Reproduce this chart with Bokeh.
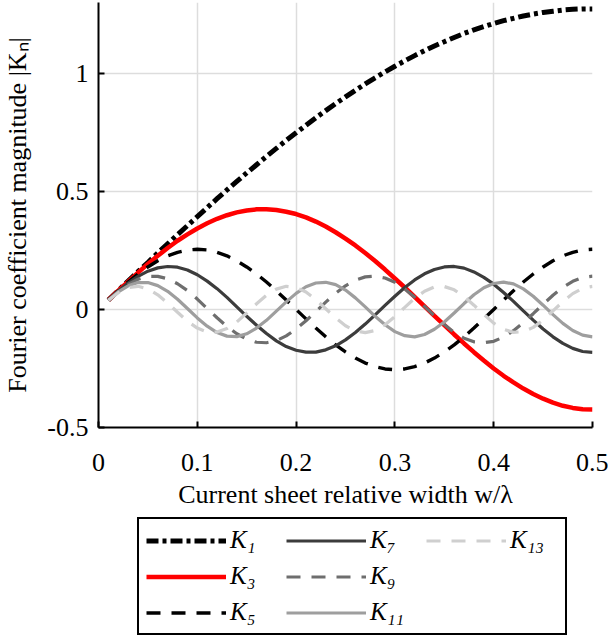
from bokeh.plotting import figure
from bokeh.models import Legend, LegendItem, FixedTicker
from bokeh.layouts import column
from bokeh.embed import file_html
from bokeh.resources import INLINE

# relative width w/lambda
w = [0.01, 0.02, 0.03, 0.04, 0.05, 0.06, 0.07, 0.08, 0.09, 0.10,
     0.11, 0.12, 0.13, 0.14, 0.15, 0.16, 0.17, 0.18, 0.19, 0.20,
     0.21, 0.22, 0.23, 0.24, 0.25, 0.26, 0.27, 0.28, 0.29, 0.30,
     0.31, 0.32, 0.33, 0.34, 0.35, 0.36, 0.37, 0.38, 0.39, 0.40,
     0.41, 0.42, 0.43, 0.44, 0.45, 0.46, 0.47, 0.48, 0.49, 0.50]

K1 = [0.040, 0.080, 0.120, 0.160, 0.199, 0.239, 0.278, 0.317, 0.355, 0.393,
      0.431, 0.469, 0.506, 0.542, 0.578, 0.613, 0.648, 0.682, 0.716, 0.748,
      0.780, 0.812, 0.842, 0.872, 0.900, 0.928, 0.955, 0.981, 1.006, 1.030,
      1.053, 1.075, 1.096, 1.116, 1.134, 1.152, 1.169, 1.184, 1.198, 1.211,
      1.223, 1.233, 1.243, 1.251, 1.258, 1.263, 1.268, 1.271, 1.273, 1.273]

K3 = [0.040, 0.080, 0.118, 0.156, 0.193, 0.227, 0.260, 0.291, 0.318, 0.343,
      0.365, 0.384, 0.399, 0.411, 0.419, 0.424, 0.424, 0.421, 0.414, 0.404,
      0.390, 0.372, 0.351, 0.327, 0.300, 0.271, 0.239, 0.205, 0.169, 0.131,
      0.093, 0.053, 0.013, -0.027, -0.066, -0.106, -0.144, -0.181, -0.216, -0.250,
      -0.281, -0.309, -0.335, -0.358, -0.378, -0.395, -0.408, -0.417, -0.423, -0.424]

K5 = [0.040, 0.079, 0.116, 0.150, 0.180, 0.206, 0.227, 0.242, 0.252, 0.255,
      0.252, 0.242, 0.227, 0.206, 0.180, 0.150, 0.116, 0.079, 0.040, 0.000,
      -0.040, -0.079, -0.116, -0.150, -0.180, -0.206, -0.227, -0.242, -0.252, -0.255,
      -0.252, -0.242, -0.227, -0.206, -0.180, -0.150, -0.116, -0.079, -0.040, 0.000,
      0.040, 0.079, 0.116, 0.150, 0.180, 0.206, 0.227, 0.242, 0.252, 0.255]

K7 = [0.040, 0.078, 0.112, 0.140, 0.162, 0.176, 0.182, 0.179, 0.167, 0.147,
      0.120, 0.088, 0.051, 0.011, -0.029, -0.067, -0.102, -0.133, -0.157, -0.173,
      -0.181, -0.181, -0.171, -0.154, -0.129, -0.098, -0.062, -0.023, 0.017, 0.056,
      0.093, 0.125, 0.151, 0.169, 0.180, 0.182, 0.175, 0.159, 0.136, 0.107,
      0.072, 0.034, -0.006, -0.045, -0.083, -0.116, -0.144, -0.165, -0.178, -0.182]

K9 = [0.040, 0.076, 0.106, 0.128, 0.140, 0.140, 0.130, 0.109, 0.080, 0.044,
      0.004, -0.035, -0.072, -0.103, -0.126, -0.139, -0.141, -0.132, -0.112, -0.083,
      -0.048, -0.009, 0.031, 0.068, 0.100, 0.124, 0.138, 0.141, 0.133, 0.115,
      0.087, 0.052, 0.013, -0.027, -0.064, -0.097, -0.122, -0.137, -0.141, -0.135,
      -0.117, -0.090, -0.056, -0.018, 0.022, 0.060, 0.094, 0.119, 0.136, 0.141]

K11 = [0.039, 0.074, 0.100, 0.114, 0.114, 0.101, 0.077, 0.043, 0.004, -0.036,
       -0.071, -0.098, -0.113, -0.115, -0.103, -0.079, -0.046, -0.007, 0.032, 0.068,
       0.096, 0.112, 0.115, 0.105, 0.082, 0.049, 0.011, -0.029, -0.065, -0.094,
       -0.111, -0.116, -0.106, -0.084, -0.053, -0.015, 0.025, 0.062, 0.092, 0.110,
       0.116, 0.108, 0.087, 0.056, 0.018, -0.022, -0.059, -0.089, -0.109, -0.116]

K13 = [0.039, 0.071, 0.092, 0.098, 0.087, 0.062, 0.027, -0.012, -0.050, -0.079,
       -0.096, -0.096, -0.081, -0.053, -0.015, 0.024, 0.060, 0.086, 0.098, 0.093,
       0.074, 0.042, 0.003, -0.036, -0.069, -0.091, -0.098, -0.089, -0.065, -0.030,
       0.009, 0.047, 0.077, 0.095, 0.097, 0.083, 0.055, 0.018, -0.021, -0.058,
       -0.084, -0.097, -0.094, -0.076, -0.045, -0.006, 0.033, 0.067, 0.090, 0.098]

series = [
    ("K\u2081", K1, "black", 5, "12 4 4 4"),
    ("K\u2083", K3, "#ff0000", 4.5, "solid"),
    ("K\u2085", K5, "black", 3.4, "14 11"),
    ("K\u2087", K7, "#3c3c3c", 3.2, "solid"),
    ("K\u2089", K9, "#6e6e6e", 3.2, "14 11"),
    ("K\u2081\u2081", K11, "#9e9e9e", 3.2, "solid"),
    ("K\u2081\u2083", K13, "#cfcfcf", 3.2, "14 11"),
]

FONT = "Liberation Serif"

p = figure(frame_width=494, frame_height=425, x_range=(0, 0.5), y_range=(-0.5, 1.3),
           output_backend="svg", toolbar_location=None,
           min_border_left=90, min_border_right=16, min_border_top=2, min_border_bottom=0)
p.outline_line_color = None
p.background_fill_color = "white"

for label, ys, color, lw, dash in series:
    p.line(w, ys, line_color=color, line_width=lw, line_dash=dash)

p.xaxis.ticker = FixedTicker(ticks=[0, 0.1, 0.2, 0.3, 0.4, 0.5])
p.yaxis.ticker = FixedTicker(ticks=[-0.5, 0, 0.5, 1])
p.yaxis.major_label_overrides = {-0.5: "-0.5", 0: "0", 0.5: "0.5", 1: "1"}
p.xgrid.grid_line_color = "#dddddd"
p.ygrid.grid_line_color = "#dddddd"
p.xgrid.grid_line_width = 1.5
p.ygrid.grid_line_width = 1.5

for ax in (p.xaxis[0], p.yaxis[0]):
    ax.axis_line_width = 2
    ax.axis_line_color = "black"
    ax.major_tick_in = 6
    ax.major_tick_out = 0
    ax.major_tick_line_width = 2
    ax.minor_tick_line_color = None
    ax.major_label_text_font = FONT
    ax.major_label_text_font_size = "26px"
    ax.major_label_text_color = "black"
    ax.axis_label_text_font = FONT
    ax.axis_label_text_font_size = "26px"
    ax.axis_label_text_font_style = "normal"
    ax.axis_label_text_color = "black"

p.xaxis.major_label_standoff = 26
p.yaxis.major_label_standoff = 10
p.xaxis.axis_label = "Current sheet relative width w/\u03bb"
p.yaxis.axis_label = "Fourier coefficient magnitude |K\u2099|"
p.xaxis.axis_label_standoff = 6
p.yaxis.axis_label_standoff = 12

# legend panel below the chart (its lines lie outside its visible y range)
lg = figure(width=600, height=124, x_range=(0, 0.5), y_range=(10, 11),
            output_backend="svg", toolbar_location=None,
            min_border_left=0, min_border_right=0, min_border_top=0, min_border_bottom=0)
lg.axis.visible = False
lg.grid.visible = False
lg.outline_line_color = None

items = []
for label, ys, color, lw, dash in series:
    r = lg.line(w, ys, line_color=color, line_width=lw, line_dash=dash)
    items.append(LegendItem(label=label, renderers=[r]))

legend = Legend(items=items, orientation="vertical", nrows=3, location=(39, 0))
legend.label_text_font = FONT
legend.label_text_font_style = "italic"
legend.label_text_font_size = "25px"
legend.label_text_color = "black"
legend.label_width = 48
legend.glyph_width = 80
legend.glyph_height = 27
legend.label_standoff = 4
legend.spacing = 8
legend.padding = 7
legend.margin = 0
legend.border_line_color = "black"
legend.border_line_alpha = 1
legend.border_line_width = 2
legend.background_fill_alpha = 1
lg.add_layout(legend, "center")

open("out.html", "w").write(file_html(column(p, lg, spacing=0), INLINE))
